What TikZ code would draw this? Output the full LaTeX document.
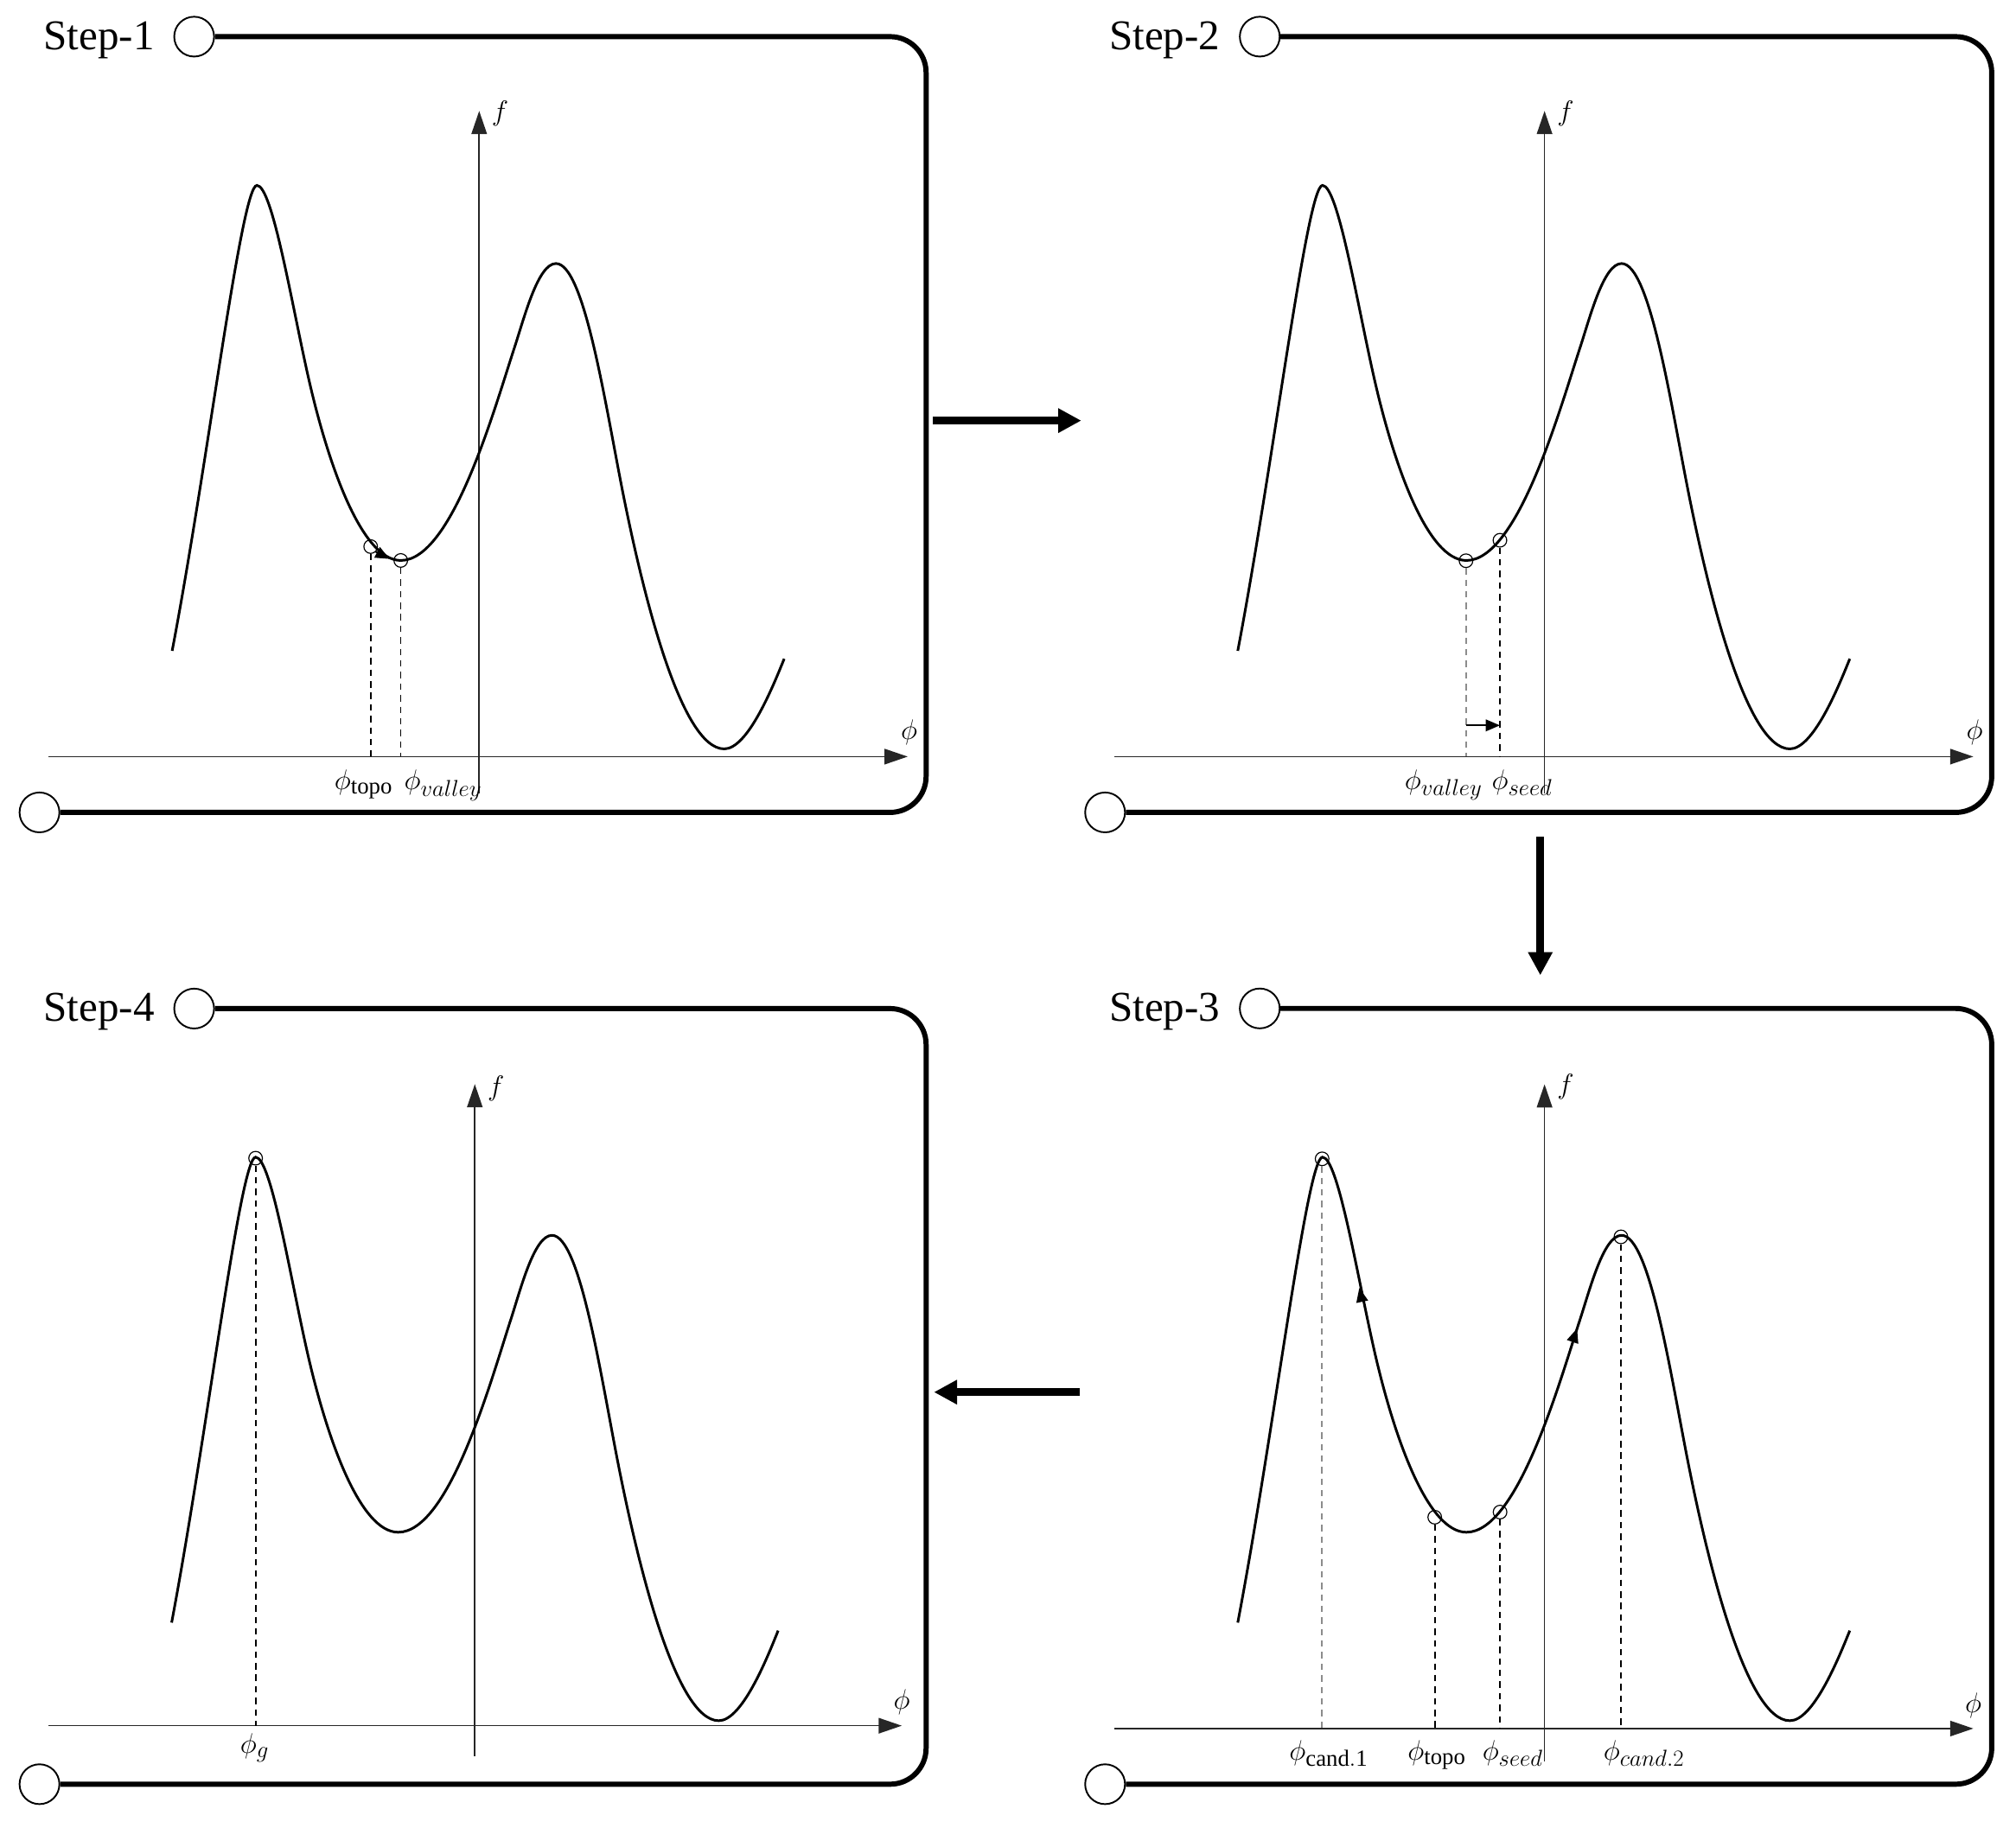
\RequirePackage{fix-cm}
\documentclass[tikz,border=0pt]{standalone}
\usepackage{fontspec}
\setmainfont{Liberation Serif}
\usetikzlibrary{arrows.meta}
\DeclareMathSizes{22}{22}{18}{14}
\newcommand\fcurve{(133.9,506.3) .. controls (161.95,359) and (187.8,144.2) .. (199.8,144.2)
 .. controls (211.8,144.2) and (226.7,235.8) .. (240,294.3)
 .. controls (255.5,362.6) and (281.7,436) .. (311.7,436)
 .. controls (351.7,436) and (384.4,318.3) .. (400,270.8)
 .. controls (407.8,247.05) and (418.4,205) .. (432.4,205)
 .. controls (454.4,205) and (470.8,314.8) .. (484.5,383.5)
 .. controls (498.2,452.2) and (528.3,582.6) .. (563.3,582.6)
 .. controls (581.3,582.6) and (600.6,535.7) .. (609.9,512.5)}
\tikzset{
 frame/.style={line width=4pt, rounded corners=28pt},
 endcirc/.style={circle, draw, line width=1.3pt, minimum size=31pt, inner sep=0pt},
 steplbl/.style={anchor=base east, font=\fontsize{33}{38}\selectfont, inner sep=0pt},
 axis/.style={line width=1.1pt, draw=black!85, -{Triangle[length=18pt,width=12pt]}},
 curve/.style={line width=2pt},
 ptmark/.style={circle, draw, line width=0.8pt, minimum size=10.6pt, inner sep=0pt},
 guide/.style={line width=1.2pt, dash pattern=on 5pt off 4pt},
 guidegrey/.style={guide, draw=black!45},
 lbl/.style={anchor=base, font=\fontsize{22}{26}\selectfont, inner sep=0pt},
 axlbl/.style={font=\fontsize{22}{26}\selectfont, inner sep=0pt},
 flow/.style={line width=6pt, -{Triangle[length=18pt,width=18pt]}},
 curvetip/.style={line width=1.5pt, -{Triangle[length=11pt,width=9pt]}},
}
\begin{document}
\begin{tikzpicture}[x=1pt,y=-1pt]
\useasboundingbox (0,0) rectangle (1568,1422);

% ---------------- Panel 1 ----------------
\node[endcirc] (s1tl) at (151,28.5) {};
\node[endcirc] (s1bl) at (30.7,632) {};
\node[steplbl] (s1lbl) at (120.3,38.6) {Step-1};
\draw[frame] (s1tl.east) -- (720.3,28.5) -- (720.3,632) -- (s1bl.east);
\coordinate (s1xo) at (37.8,588.6);
\coordinate (s1xe) at (706,588.6);
\coordinate (s1yo) at (372.7,617);
\coordinate (s1ye) at (372.7,86.3);
\draw[axis] (s1xo) -- (s1xe);
\draw[axis] (s1yo) -- (s1ye);
\node[axlbl] (s1phi) at (707,570) {$\phi$};
\node[axlbl] (s1f) at (389,88.5) {$f$};
\draw[curve] \fcurve;
\node[ptmark] (s1a) at (288.3,425.2) {};
\node[ptmark] (s1b) at (311.7,436) {};
\draw[guide] (s1a.south) -- (s1a |- s1xo);
\draw[guide] (s1b.south) -- (s1b |- s1xo);
\coordinate (s1ts) at (292,429);
\coordinate (s1te) at (303,434.8);
\draw[curvetip] (s1ts) -- (s1te);
\node[lbl] (s1l1) at (282.8,614.5) {$\phi_{\mathrm{topo}}$};
\node[lbl] (s1l2) at (344.6,614.5) {$\phi_{valley}$};

% ---------------- Panel 2 ----------------
\begin{scope}[shift={(828.8,0)}]
\node[endcirc] (s2tl) at (151,28.5) {};
\node[endcirc] (s2bl) at (30.7,632) {};
\node[steplbl] (s2lbl) at (120.3,38.6) {Step-2};
\draw[frame] (s2tl.east) -- (720.3,28.5) -- (720.3,632) -- (s2bl.east);
\coordinate (s2xo) at (37.8,588.6);
\coordinate (s2xe) at (706,588.6);
\coordinate (s2yo) at (372.5,617);
\coordinate (s2ye) at (372.5,86.3);
\draw[axis] (s2xo) -- (s2xe);
\draw[axis] (s2yo) -- (s2ye);
\node[axlbl] (s2phi) at (707,570) {$\phi$};
\node[axlbl] (s2f) at (388.9,88.5) {$f$};
\draw[curve] \fcurve;
\node[ptmark] (s2a) at (311.4,436.2) {};
\node[ptmark] (s2b) at (337.8,420.3) {};
\draw[guidegrey] (s2a.south) -- (s2a |- s2xo);
\draw[guide] (s2b.south) -- (s2b |- s2xo);
\coordinate (s2ms) at (311.4,564.3);
\coordinate (s2me) at (337.8,564.3);
\draw[curvetip] (s2ms) -- (s2me);
\node[lbl] (s2l1) at (293.9,614) {$\phi_{valley}$};
\node[lbl] (s2l2) at (355,614) {$\phi_{seed}$};
\end{scope}

% ---------------- Panel 3 ----------------
\begin{scope}[shift={(828.8,756)}]
\node[endcirc] (s3tl) at (151,28.5) {};
\node[endcirc] (s3bl) at (30.7,632) {};
\node[steplbl] (s3lbl) at (120.3,38.6) {Step-3};
\draw[frame] (s3tl.east) -- (720.3,28.5) -- (720.3,632) -- (s3bl.east);
\coordinate (s3xo) at (37.8,588.7);
\coordinate (s3xe) at (706,588.7);
\coordinate (s3yo) at (372.5,614);
\coordinate (s3ye) at (372.5,87.5);
\draw[axis] (s3xo) -- (s3xe);
\draw[axis] (s3yo) -- (s3ye);
\node[axlbl] (s3phi) at (706,571) {$\phi$};
\node[axlbl] (s3f) at (388.9,89.3) {$f$};
\draw[curve] \fcurve;
\node[ptmark] (s3a) at (199.5,145.5) {};
\node[ptmark] (s3b) at (287.1,424.3) {};
\node[ptmark] (s3c) at (337.9,420.3) {};
\node[ptmark] (s3d) at (431.9,206.2) {};
\draw[guidegrey] (s3a.south) -- (s3a |- s3xo);
\draw[guide] (s3b.south) -- (s3b |- s3xo);
\draw[guide] (s3c.south) -- (s3c |- s3xo);
\draw[guide] (s3d.south) -- (s3d |- s3xo);
\coordinate (s3t1s) at (230.5,255.7);
\coordinate (s3t1e) at (228.4,245.9);
\draw[curvetip] (s3t1s) -- (s3t1e);
\coordinate (s3t2s) at (394.6,287);
\coordinate (s3t2e) at (397.8,277.5);
\draw[curvetip] (s3t2s) -- (s3t2e);
\node[lbl] (s3l1) at (204.6,613.3) {$\phi_{\mathrm{cand.1}}$};
\node[lbl] (s3l2) at (288.7,613.3) {$\phi_{\mathrm{topo}}$};
\node[lbl] (s3l3) at (347.7,613.3) {$\phi_{seed}$};
\node[lbl] (s3l4) at (449.8,613.3) {$\phi_{cand.2}$};
\end{scope}

% ---------------- Panel 4 ----------------
\begin{scope}[shift={(0,756)}]
\node[endcirc] (s4tl) at (151,28.6) {};
\node[endcirc] (s4bl) at (30.7,632) {};
\node[steplbl] (s4lbl) at (120.3,38.7) {Step-4};
\draw[frame] (s4tl.east) -- (720.3,28.6) -- (720.3,632) -- (s4bl.east);
\coordinate (s4xo) at (37.7,586.5);
\coordinate (s4xe) at (701.4,586.5);
\coordinate (s4yo) at (369.3,610);
\coordinate (s4ye) at (369.3,87.4);
\draw[axis] (s4xo) -- (s4xe);
\draw[axis] (s4yo) -- (s4ye);
\node[axlbl] (s4phi) at (701.4,567.8) {$\phi$};
\node[axlbl] (s4f) at (385.8,90.4) {$f$};
\begin{scope}[xshift=0.8pt, xscale=0.991]
\draw[curve] \fcurve;
\end{scope}
\node[ptmark] (s4a) at (198.8,145) {};
\draw[guide] (s4a.south) -- (s4a |- s4xo);
\node[lbl] (s4l1) at (198,608) {$\phi_{g}$};
\end{scope}

% ---------------- flow arrows ----------------
\coordinate (a12s) at (725.7,327.2);
\coordinate (a12e) at (841,327.2);
\coordinate (a23s) at (1198,651.1);
\coordinate (a23e) at (1198,758.7);
\coordinate (a34s) at (840,1083);
\coordinate (a34e) at (726.4,1083);
\draw[flow] (a12s) -- (a12e);
\draw[flow] (a23s) -- (a23e);
\draw[flow] (a34s) -- (a34e);
\end{tikzpicture}
\end{document}
